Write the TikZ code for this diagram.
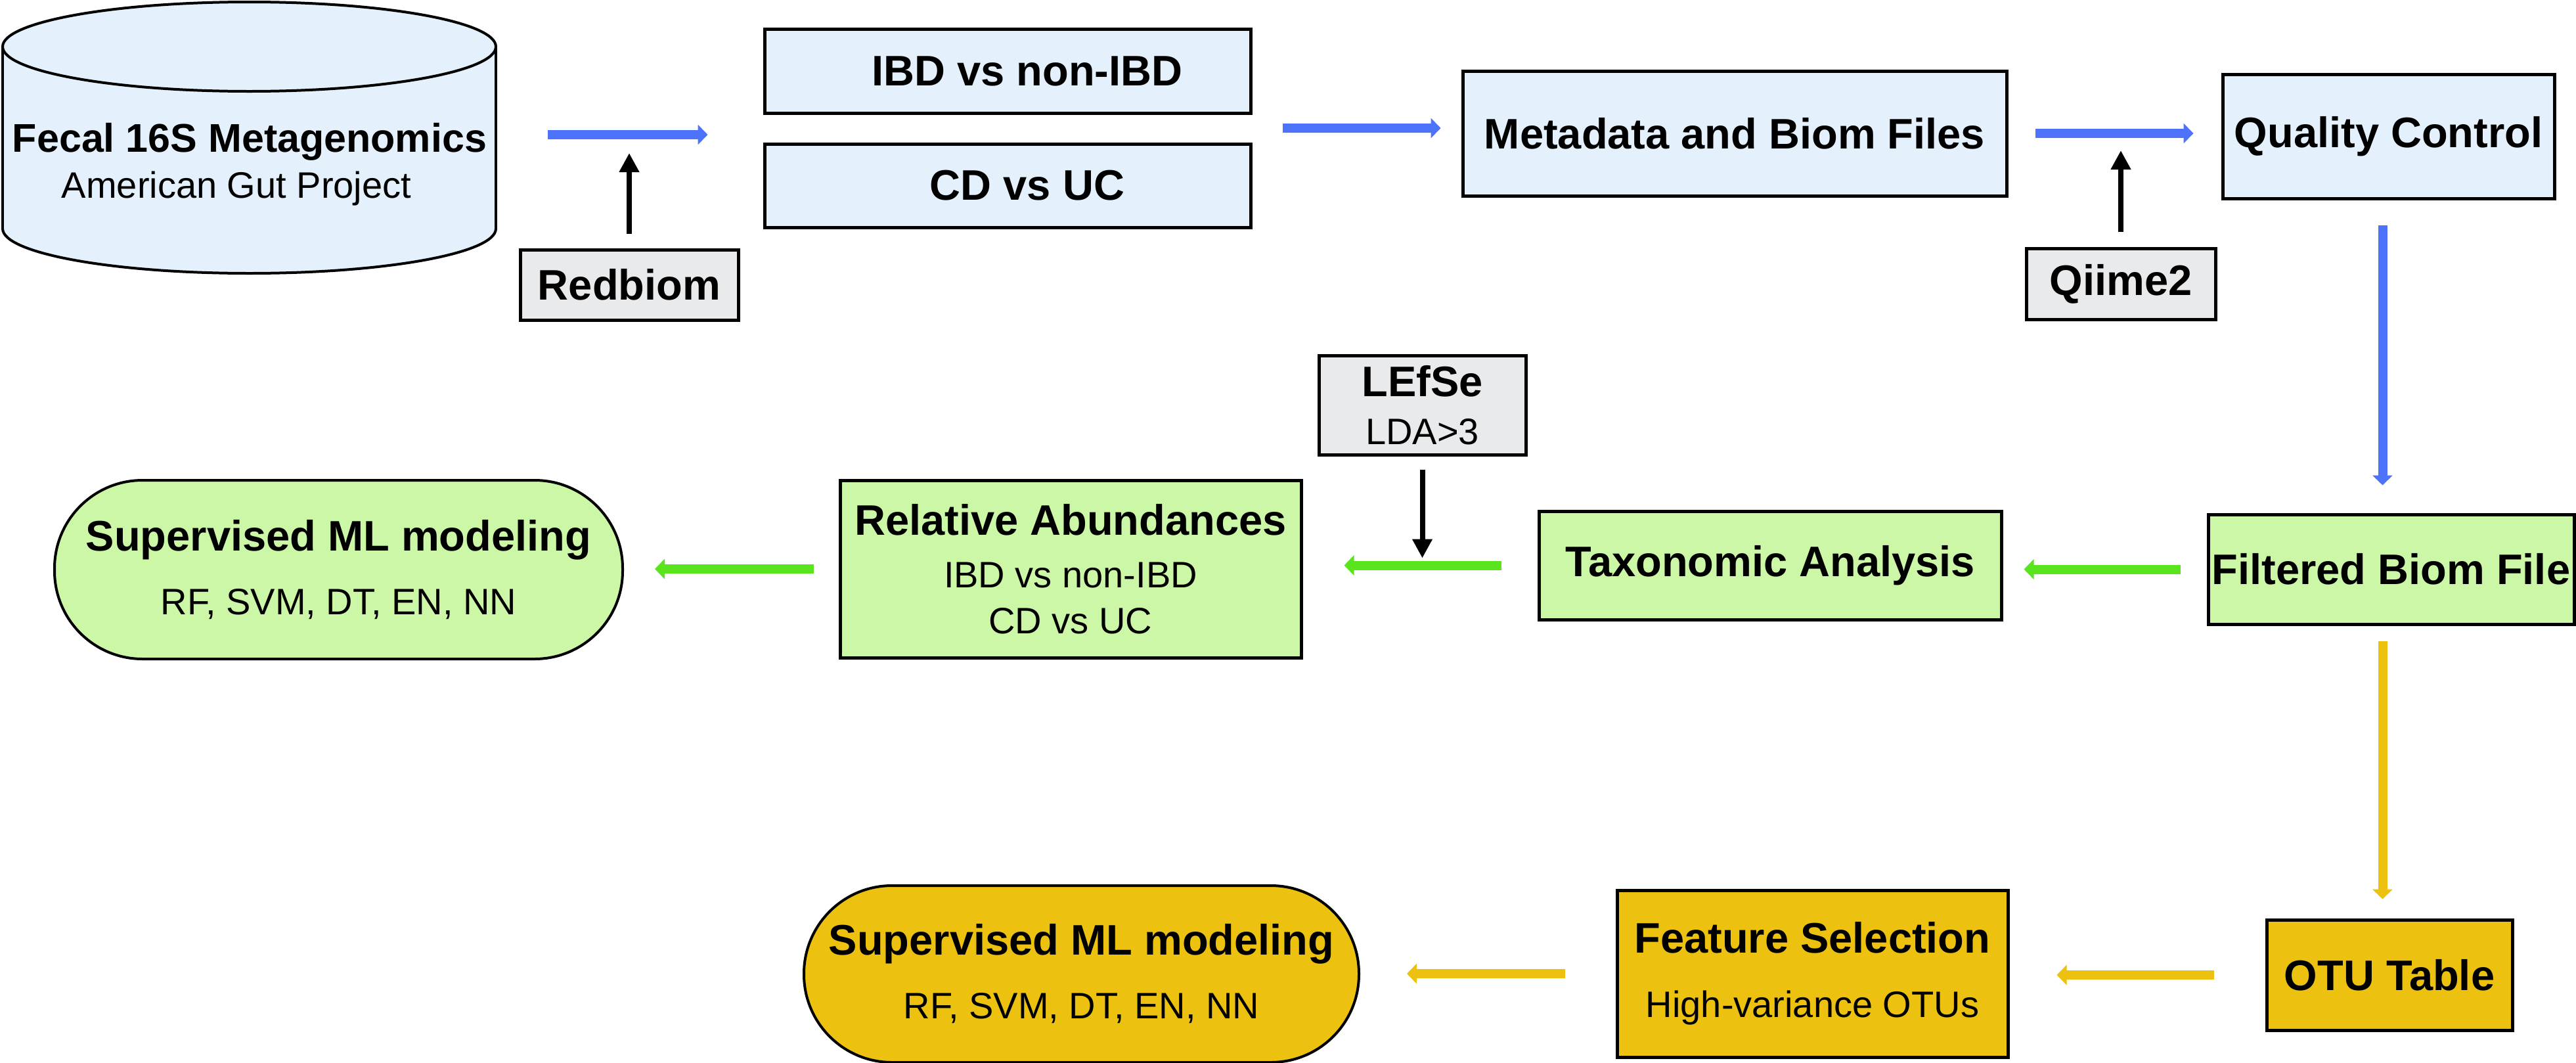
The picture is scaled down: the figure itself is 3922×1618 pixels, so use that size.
\documentclass[tikz,border=0pt]{standalone}
\usepackage{fontspec}
\setmainfont{Liberation Sans}
\usetikzlibrary{arrows.meta,calc}
\definecolor{lightblue}{HTML}{E4F0FB}
\definecolor{lightgray2}{HTML}{E9EAEC}
\definecolor{lightgreen}{HTML}{CBF7A7}
\definecolor{gold}{HTML}{EDC10F}
\definecolor{arrowblue}{HTML}{4D73FA}
\definecolor{arrowgreen}{HTML}{5AE41E}
\newcommand{\subtxt}[1]{{\fontsize{14}{17.5}\selectfont\mdseries #1}}
\begin{document}
\begin{tikzpicture}[x=0.25pt,y=-0.25pt,
  box/.style={draw=black,line width=1.25pt,inner sep=0pt,align=center,
    font=\fontsize{16.25}{17.5}\selectfont\bfseries},
  bluebox/.style={box,fill=lightblue},
  graybox/.style={box,fill=lightgray2},
  greenbox/.style={box,fill=lightgreen},
  goldbox/.style={box,fill=gold},
  pill/.style={box,line width=1pt,rounded corners=33.5pt},
  flow/.style={line width=3.5pt,-{Triangle[width=7.5pt,length=3.75pt]}},
  bflow/.style={flow,draw=arrowblue,arrowblue},
  gflow/.style={flow,draw=arrowgreen,arrowgreen},
  yflow/.style={flow,draw=gold,gold},
  karrow/.style={line width=2pt,draw=black,-{Triangle[width=7.25pt,length=7.25pt]}}
]
\fill[white] (0,0) rectangle (3922,1618);
\useasboundingbox (0,0) rectangle (3922,1618);

% cylinder
\filldraw[fill=lightblue,line width=1pt] (379.5,348) ellipse [x radius=93.875pt, y radius=17pt];
\fill[lightblue] (4,71) rectangle (755,348);
\draw[line width=1pt] (4,71) -- (4,348) (755,71) -- (755,348);
\filldraw[fill=lightblue,line width=1pt] (379.5,71) ellipse [x radius=93.875pt, y radius=17pt];
\node[inner sep=0pt,minimum width=187.75pt,minimum height=100pt] (cyl) at (379.5,205) {};
\node[align=center,inner sep=0pt,font=\fontsize{15.25}{17.5}\selectfont] (cyltext) at (380,250)
  {\bfseries Fecal 16S Metagenomics\\\subtxt{American Gut Project\hspace*{10pt}}};

% row 1
\node[bluebox,minimum width=185pt,minimum height=32pt] (ibd) at (1534,108) {\hspace*{15pt}IBD vs non-IBD};
\node[bluebox,minimum width=185pt,minimum height=31.75pt] (cd) at (1534,282.5) {\hspace*{15pt}CD vs UC};
\node[graybox,minimum width=83pt,minimum height=26.75pt] (redbiom) at (958,433.5) {Redbiom};
\node[bluebox,minimum width=207pt,minimum height=47.5pt] (meta) at (2641,203) {Metadata and Biom Files};
\node[graybox,minimum width=72pt,minimum height=27pt] (qiime) at (3229,432) {Qiime2};
\node[bluebox,minimum width=126.25pt,minimum height=47.25pt] (qc) at (3636.5,207.5) {Quality Control};

% row 2
\node[greenbox,minimum width=139.25pt,minimum height=41.75pt] (filtered) at (3640.5,866.5) {Filtered Biom File};
\node[greenbox,minimum width=176pt,minimum height=41.25pt] (taxo) at (2695,860.5) {Taxonomic Analysis};
\node[graybox,minimum width=78.75pt,minimum height=37.75pt] (lefse) at (2165.5,616.5) {LEfSe\\[0.75pt]\subtxt{LDA>3}};
\node[greenbox,minimum width=175.5pt,minimum height=67.5pt] (relab) at (1630,866)
  {Relative Abundances\\[2.5pt]\subtxt{IBD vs non-IBD}\\\subtxt{CD vs UC}};
\node[pill,fill=lightgreen,minimum width=216.25pt,minimum height=68pt] (sml1) at (515.5,867)
  {Supervised ML modeling\\[6.75pt]\subtxt{RF, SVM, DT, EN, NN}};

% row 3
\node[goldbox,minimum width=93.5pt,minimum height=42pt] (otu) at (3638,1484) {OTU Table};
\node[goldbox,minimum width=148.75pt,minimum height=63.5pt] (feat) at (2759.5,1482)
  {Feature Selection\\[7pt]\subtxt{High-variance OTUs}};
\node[pill,fill=gold,minimum width=211.25pt,minimum height=67.25pt] (sml2) at (1646.5,1482.5)
  {Supervised ML modeling\\[6.75pt]\subtxt{RF, SVM, DT, EN, NN}};

% connectors
\draw[bflow,shorten <=19.5pt,shorten >=21pt] (cyl.east) -- (cyl.east -| cd.west);
\draw[karrow,shorten <=5.5pt,shorten >=7pt] (redbiom.north) -- (redbiom.north |- cyl.east);
\coordinate (m2) at ([yshift=2pt]meta.west);
\draw[bflow,shorten <=11.5pt,shorten >=7.75pt] (m2 -| cd.east) -- (m2);
\draw[bflow,shorten <=10.25pt,shorten >=10.5pt] (meta.east) -- (meta.east -| qc.west);
\draw[karrow,shorten <=5.75pt,shorten >=6.5pt] (qiime.north) -- (qiime.north |- meta.east);
\coordinate (v1) at ([xshift=-2.25pt]qc.south);
\draw[bflow,shorten <=9.5pt,shorten >=10.5pt] (v1) -- (v1 |- filtered.north);
\draw[gflow,shorten <=10pt,shorten >=8pt] (filtered.west) -- (filtered.west -| taxo.east);
\draw[gflow,shorten <=13.75pt,shorten >=15.75pt] (taxo.west) -- (taxo.west -| relab.east);
\draw[karrow,shorten <=5pt,shorten >=2.75pt] (lefse.south) -- (lefse.south |- taxo.west);
\draw[gflow,shorten <=9.5pt,shorten >=11.75pt] (relab.west) -- (relab.west -| sml1.east);
\coordinate (v2) at ([xshift=-3.25pt]filtered.south);
\draw[yflow,shorten <=5.75pt,shorten >=7.25pt] (v2) -- (v2 |- otu.north);
\draw[yflow,shorten <=19.5pt,shorten >=18pt] (otu.west) -- (otu.west -| feat.east);
\draw[yflow,shorten <=19.25pt,shorten >=17.75pt] (feat.west) -- (feat.west -| sml2.east);
\end{tikzpicture}
\end{document}
